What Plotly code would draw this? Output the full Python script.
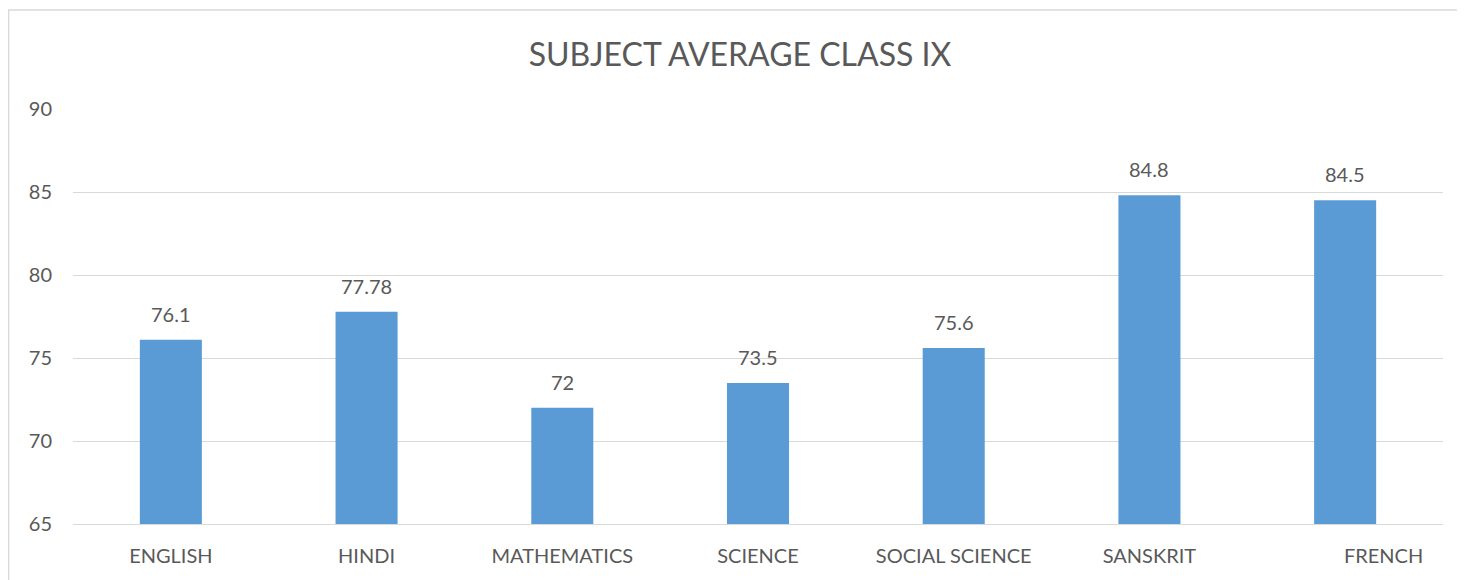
import plotly.graph_objects as go

subjects = ["ENGLISH", "HINDI", "MATHEMATICS", "SCIENCE", "SOCIAL SCIENCE", "SANSKRIT", "FRENCH"]
tick_labels = ["ENGLISH", "HINDI", "MATHEMATICS", "SCIENCE", "SOCIAL SCIENCE", "SANSKRIT",
               "\u00a0" * 15 + "FRENCH"]
averages = [76.1, 77.78, 72, 73.5, 75.6, 84.8, 84.5]
value_labels = ["76.1", "77.78", "72", "73.5", "75.6", "84.8", "84.5"]
y_ticks = [65, 70, 75, 80, 85, 90]

TEXT = "#595959"
FONT = "Lato"

fig = go.Figure()
fig.add_trace(go.Bar(
    x=subjects, y=averages,
    marker=dict(color="#5B9BD5", line=dict(width=0)),
    hoverinfo="x+y",
))

for s, v, t in zip(subjects, averages, value_labels):
    fig.add_annotation(x=s, y=v, text=t, showarrow=False, yanchor="bottom",
                       yshift=12, font=dict(family=FONT, size=20, color=TEXT))

W, H = 1465, 580
L, R, T, B = 65, 30, 101, 64
pw, ph = W - L - R, H - T - B

fig.add_shape(type="rect", xref="paper", yref="paper",
              x0=(0.7 - L) / pw, x1=(W + 20 - L) / pw,
              y0=-(B + 30) / ph, y1=1 + (T - 2) / ph,
              line=dict(color="#D9D9D9", width=1.3), fillcolor="rgba(0,0,0,0)", layer="below")

fig.update_layout(
    width=W, height=H,
    margin=dict(l=L, r=R, t=T, b=B),
    paper_bgcolor="white", plot_bgcolor="white",
    bargap=0.683,
    showlegend=False,
    font=dict(family=FONT, color=TEXT, size=20),
    title=dict(text="SUBJECT AVERAGE CLASS IX", x=732 / W, xanchor="center",
               y=1 - 47 / H, yanchor="middle", yref="container",
               font=dict(family=FONT, size=32, color=TEXT)),
    xaxis=dict(tickmode="array", tickvals=subjects, ticktext=tick_labels,
               showgrid=False, showline=True, linecolor="#D9D9D9", linewidth=1,
               ticks="", ticklabelstandoff=14, tickfont=dict(family=FONT, size=20, color=TEXT)),
    yaxis=dict(range=[65, 90], tickvals=y_ticks, showgrid=True, gridcolor="#D9D9D9",
               gridwidth=1, zeroline=False, showline=False, ticks="",
               ticklabelstandoff=20, tickfont=dict(family=FONT, size=20, color=TEXT)),
)

fig.write_html("out.html")
